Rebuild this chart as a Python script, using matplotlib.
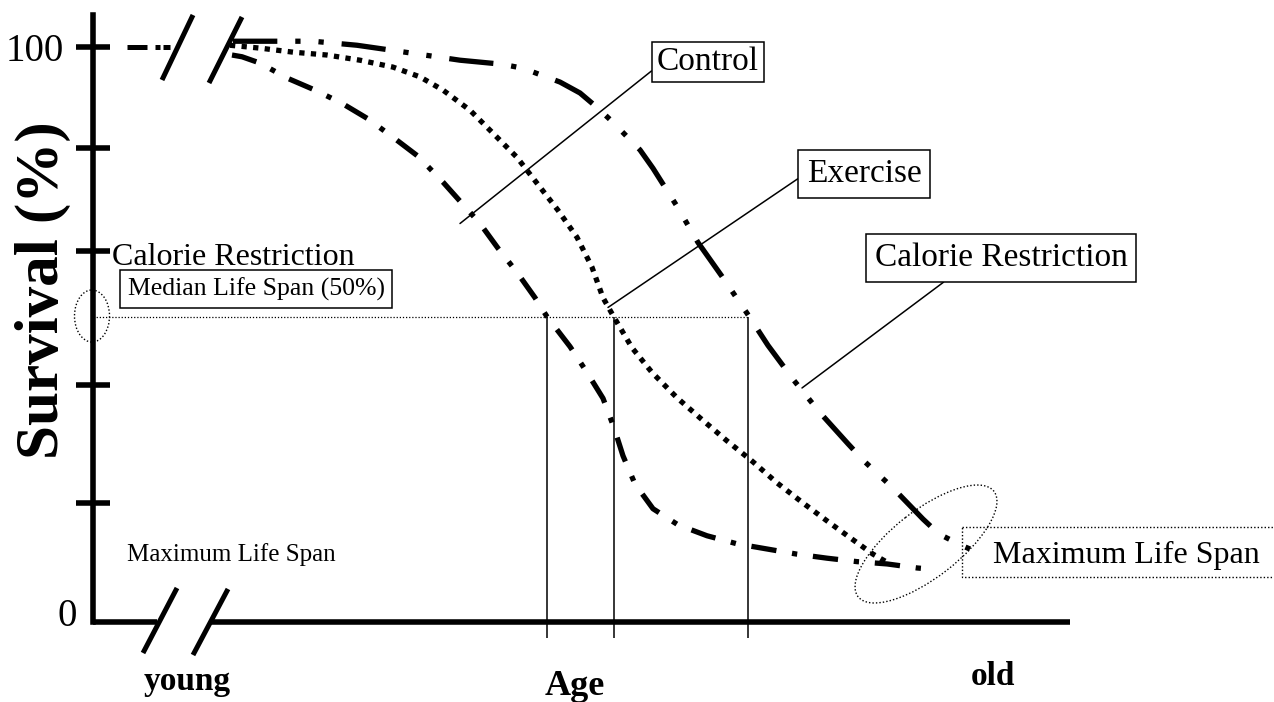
"""Survival curves: control, exercise and calorie restriction (schematic)."""

import matplotlib
matplotlib.use('Agg')
from matplotlib import pyplot as plt
from matplotlib import transforms as mtransforms
from matplotlib.patches import Ellipse, Rectangle

plt.rcParams['font.family'] = ['Liberation Serif', 'DejaVu Serif']

# survival curves (age in arbitrary units, survival in %)
age_control = [13.9, 14.9, 16.7, 19.4, 22.2, 24.9, 27.5, 30.0, 32.5, 35.0, 38.7,
               40.5, 42.4, 44.2, 45.4, 47.7, 49.4, 51.0, 52.1, 53.0, 54.2, 56.0,
               58.5, 61.4, 64.4, 67.4, 70.4, 73.4, 76.4, 79.4, 82.4, 83.7]
surv_control = [98.6, 98.3, 97.2, 94.6, 92.5, 90.2, 87.5, 84.3, 81.0, 76.5, 69.3,
                65.0, 60.8, 56.4, 53.1, 47.9, 43.4, 38.9, 33.8, 28.9, 24.0, 19.7,
                16.9, 15.0, 13.6, 12.7, 11.8, 11.1, 10.5, 10.1, 9.4, 9.2]

age_exercise = [13.7, 16.7, 20.0, 23.4, 26.7, 30.0, 32.7, 35.0, 37.7, 40.0, 42.4,
                44.4, 46.5, 48.4, 49.9, 51.0, 52.1, 53.9, 55.9, 58.4, 60.7, 63.4,
                65.9, 68.4, 71.0, 73.7, 76.4, 78.0, 79.7]
surv_exercise = [100.3, 99.8, 99.1, 98.6, 97.7, 96.5, 94.8, 92.5, 89.0, 85.0, 80.8,
                 76.3, 71.6, 66.9, 61.7, 56.4, 53.0, 47.7, 43.4, 39.0, 35.5, 31.5,
                 28.0, 24.2, 20.7, 17.2, 13.8, 11.8, 10.1]

age_cr = [14.0, 17.9, 22.0, 26.4, 30.4, 36.7, 40.9, 43.0, 46.7, 48.7, 50.4, 52.0,
          54.7, 56.0, 58.4, 60.5, 62.9, 65.4, 67.5, 70.1, 72.7, 75.5, 77.1, 80.0,
          83.0, 84.6, 87.0, 87.7]
surv_cr = [101.0, 101.0, 101.0, 100.3, 99.3, 97.7, 97.0, 96.3, 93.9, 92.0, 89.5,
           86.9, 82.1, 78.9, 72.3, 66.0, 60.1, 53.7, 48.1, 42.0, 36.4, 31.0, 28.0,
           23.3, 17.9, 15.3, 13.2, 12.7]

# the 100% stretch before the axis break
age_young = [3.4, 7.7]
surv_young = [100, 100]

median_level = 53.1
median_ages = [45.4, 52.1, 65.5]
ytick_vals = [20.7, 41.3, 64.6, 82.4, 100]
ytick_labels = ['', '', '', '', '100']
axis_gap = (6.4, 11.7)
axis_end = 97.7

# label anchor points on the curves
control_pt = (36.7, 69.3)
exercise_pt = (51.5, 54.7)
cr_pt = (70.9, 40.7)

fig = plt.figure(figsize=(12.74, 7.02), dpi=100, facecolor='white')
ax = fig.add_axes([0, 0, 1, 1])
# image pixel coordinates for the decorations
px = mtransforms.Affine2D().scale(1 / 100., -1 / 100.).translate(0, 7.02) \
    + fig.dpi_scale_trans

ax.plot(age_control, surv_control, color='black', lw=3.8,
        ls=(0, (4.8, 3, 1, 3)))
ax.plot(age_exercise, surv_exercise, color='black', lw=3.8,
        ls=(0, (1, 1.2)))
ax.plot(age_cr, surv_cr, color='black', lw=3.8,
        ls=(0, (8.4, 3.4, 1, 3.4, 1, 3.4)))
ax.plot(age_young, surv_young, color='black', lw=3.6,
        ls=(0, (4, 1.6, 1, 0.6, 1.4, 5)))

# median life span
ax.hlines(median_level, 0, median_ages[-1], color='black', lw=0.9,
          ls=(0, (1, 1.5)))
ax.vlines(median_ages, -2.8, median_level, color='black', lw=1.1)

# axes
ax.plot([0, axis_gap[0]], [0, 0], color='black', lw=4, solid_capstyle='butt')
ax.plot([axis_gap[1], axis_end], [0, 0], color='black', lw=4,
        solid_capstyle='butt')
for s in ['top', 'right', 'bottom']:
    ax.spines[s].set_visible(False)
ax.spines['left'].set_position(('data', 0))
ax.spines['left'].set_bounds(0, 105.6)
ax.spines['left'].set_linewidth(4)
ax.set_xticks([])
ax.set_yticks(ytick_vals, labels=ytick_labels)
ax.tick_params(axis='y', direction='inout', length=24, width=4,
               labelsize=28, pad=9)

# axis breaks
for (x0, y0), (x1, y1) in [((162, 80), (193, 15)), ((209, 83), (242, 17)),
                           ((143, 653), (177, 588)), ((193, 655), (228, 589))]:
    ax.plot([x0, x1], [y0, y1], color='black', lw=3.6,
            solid_capstyle='butt', transform=px)

ax.text(67, 616, '0', transform=px, ha='center', va='center', fontsize=28)
ax.text(43, 290, 'Survival (%)', transform=px, rotation=90, ha='center',
        va='center', fontsize=44, fontweight='bold')
ax.text(187, 690, 'young', transform=px, ha='center', va='baseline',
        fontsize=24, fontweight='bold')
ax.text(575, 695, 'Age', transform=px, ha='center', va='baseline',
        fontsize=26, fontweight='bold')
ax.text(993, 685, 'old', transform=px, ha='center', va='baseline',
        fontsize=24, fontweight='bold')

ax.text(112, 265, 'Calorie Restriction', transform=px, ha='left',
        va='baseline', fontsize=23)
ax.text(256, 289, 'Median Life Span (50%)', transform=px, ha='center',
        va='center', fontsize=18.5,
        bbox=dict(boxstyle='square,pad=0.3', fc='white', ec='black', lw=1.1))
ax.text(127, 561, 'Maximum Life Span', transform=px, ha='left',
        va='baseline', fontsize=18)
ax.text(993, 563, 'Maximum Life Span', transform=px, ha='left',
        va='baseline', fontsize=23)
ax.add_patch(Rectangle((962, 527), 340, 50, transform=px, fill=False,
                       ec='black', lw=1, ls=(0, (1, 1.5))))

ax.add_patch(Ellipse((92, 316), 35, 52, transform=px, fill=False,
                     ec='black', lw=1, ls=(0, (1, 1.5))))
ax.add_patch(Ellipse((926, 544), 172, 67, angle=-37.8, transform=px,
                     fill=False, ec='black', lw=1, ls=(0, (1, 1.5))))

for label, pt, pos, rel, pad in [('Control', control_pt, (708, 62), (0, 0.35), 0.15),
                                 ('Exercise', exercise_pt, (864, 174), (0, 0.54), 0.25),
                                 ('Calorie Restriction', cr_pt, (1001, 258), (0.32, 0), 0.25)]:
    ax.annotate(label, xy=pt, xycoords='data', xytext=pos, textcoords=px,
                ha='center', va='center', fontsize=24,
                bbox=dict(boxstyle='square,pad=%g' % pad, fc='white',
                          ec='black', lw=1.1),
                arrowprops=dict(arrowstyle='-', color='black', lw=1.1,
                                relpos=rel, shrinkA=0, shrinkB=0))

ax.set_xlim(-9.3, 118.1)
ax.set_ylim(-13.91, 108.17)
plt.savefig('out.png', dpi=100, facecolor='white')
